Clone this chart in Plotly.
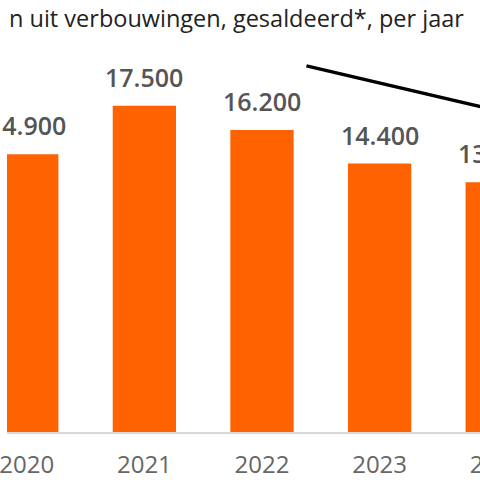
import plotly.graph_objects as go

years = ["2020", "2021", "2022", "2023", "2024"]
values = [14900, 17500, 16200, 14400, 13400]
labels = ["14.900", "17.500", "16.200", "14.400", "13.400"]
title_text = "n uit verbouwingen, gesaldeerd*, per jaar"

FONT = "Open Sans"
ORANGE = "#FF6200"
FIG_W = 600  # wider than window; the 480px viewport crops the right part

fig = go.Figure()
fig.add_trace(go.Bar(
    x=list(range(len(years))), y=values,
    marker=dict(color=ORANGE, line=dict(width=0)),
    width=0.538, hoverinfo="skip",
))

for i, (v, lab) in enumerate(zip(values, labels)):
    fig.add_annotation(
        x=i, y=v, xref="x", yref="y", text=lab, showarrow=False,
        yanchor="bottom", yshift=10,
        font=dict(family=FONT, size=25, color="#555555", weight=600),
    )

fig.add_annotation(
    x=0, y=1, xref="paper", yref="paper", xanchor="left", yanchor="bottom",
    yshift=4, text=title_text, showarrow=False,
    font=dict(family=FONT, size=23.5, color="#222222"),
)

x0_range = -0.168
fig.add_shape(type="line", xref="x", yref="y",
              x0=2.378, y0=19640, x1=4.3, y1=16800,
              line=dict(color="black", width=3.5))

fig.update_layout(
    width=FIG_W, height=480,
    margin=dict(l=0, r=0, t=40, b=47),
    paper_bgcolor="white", plot_bgcolor="white",
    showlegend=False,
    xaxis=dict(
        range=[x0_range, x0_range + FIG_W / 119.0],
        tickmode="array", tickvals=list(range(len(years))), ticktext=years,
        showgrid=False, zeroline=False,
        showline=True, linecolor="#d9d9d9", linewidth=1.5,
        ticks="", ticklabelstandoff=11, ticklabeloverflow="allow",
        tickfont=dict(family=FONT, size=24, color="#666666"),
    ),
    yaxis=dict(range=[0, 21030], visible=False, showgrid=False, zeroline=False),
)

fig.write_html(
    "out.html",
    config={"displayModeBar": False, "staticPlot": True},
    post_script="document.body.style.margin='0';document.body.style.overflow='hidden';"
                "document.documentElement.style.overflow='hidden';",
)
